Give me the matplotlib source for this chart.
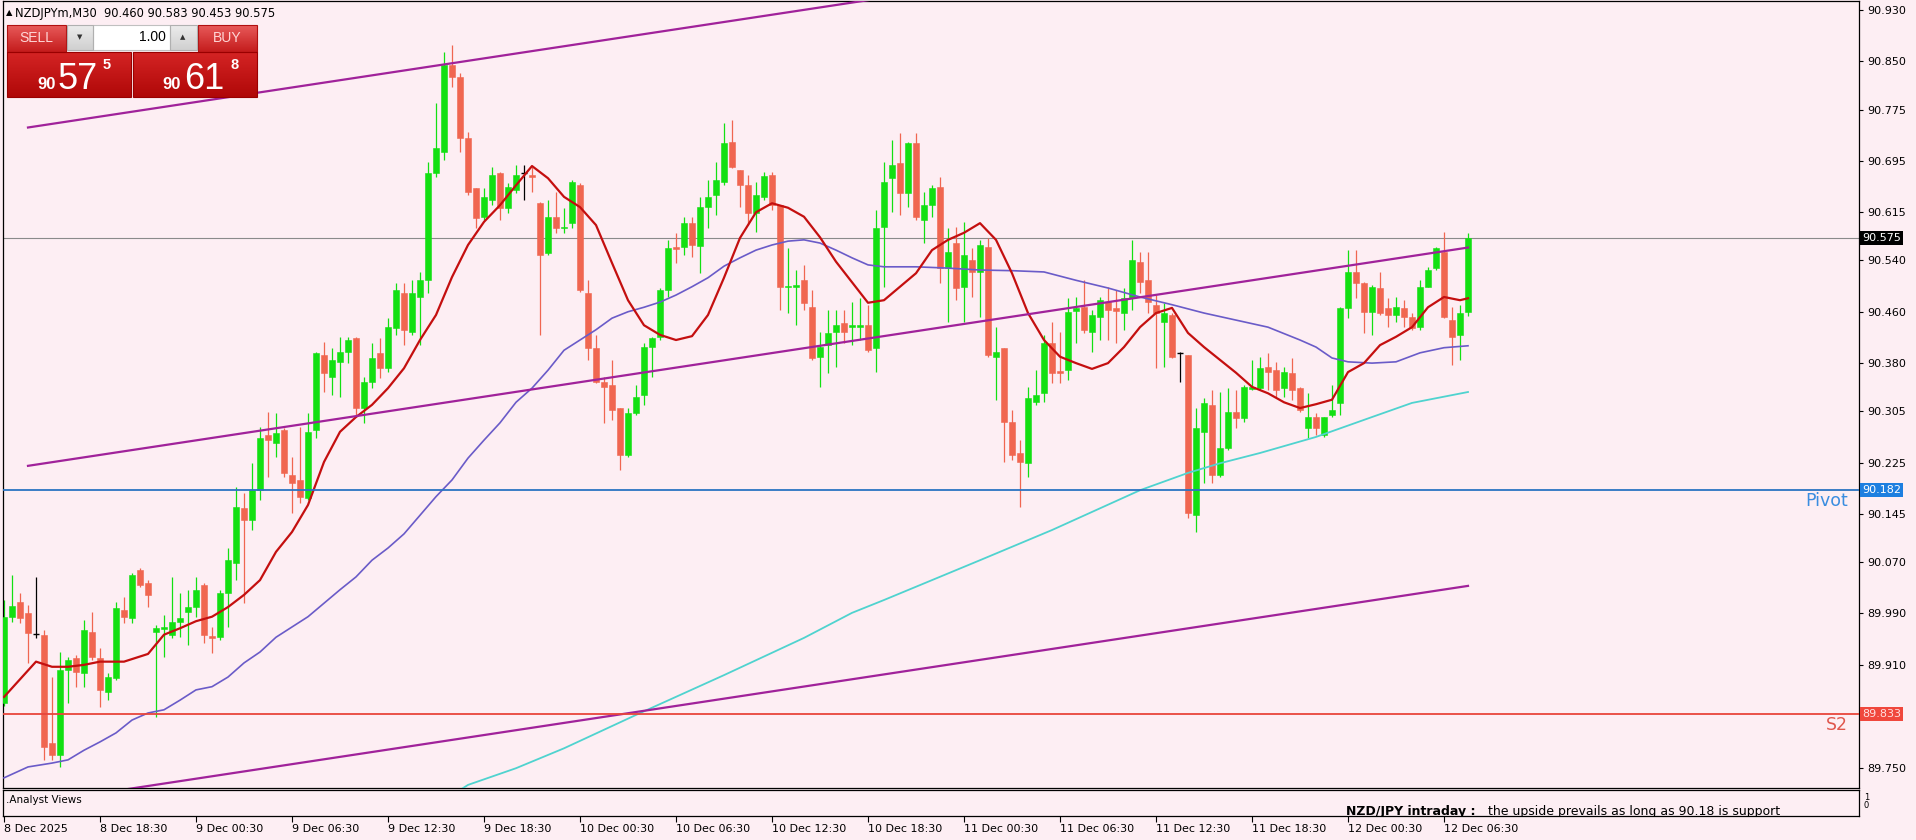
import matplotlib
matplotlib.use("Agg")
import matplotlib.pyplot as plt
import matplotlib.colors as mcolors
from matplotlib import font_manager
from matplotlib.patches import Rectangle
import numpy as np
import pandas as pd

# ---- chart data (NZDJPYm, M30) ----
first_bar = "2025-12-08 12:30"

opens = [89.850, 89.985, 90.008, 89.990, 89.958, 89.957, 89.788, 89.770, 89.902, 89.921,
         89.897, 89.961, 89.921, 89.868, 89.890, 89.995, 89.983, 90.058, 90.037, 89.961,
         89.966, 89.957, 89.977, 89.992, 90.000, 90.034, 89.955, 89.953, 90.022, 90.069,
         90.154, 90.136, 90.182, 90.268, 90.256, 90.276, 90.206, 90.198, 90.170, 90.276,
         90.393, 90.358, 90.382, 90.397, 90.419, 90.310, 90.351, 90.396, 90.372, 90.435,
         90.489, 90.429, 90.483, 90.509, 90.676, 90.709, 90.844, 90.826, 90.731, 90.653,
         90.608, 90.634, 90.676, 90.622, 90.650, 90.676, 90.673, 90.629, 90.551, 90.608,
         90.590, 90.598, 90.657, 90.489, 90.404, 90.351, 90.346, 90.310, 90.237, 90.302,
         90.330, 90.405, 90.421, 90.494, 90.561, 90.561, 90.598, 90.562, 90.623, 90.642,
         90.662, 90.724, 90.681, 90.657, 90.614, 90.639, 90.673, 90.626, 90.499, 90.499,
         90.509, 90.467, 90.390, 90.408, 90.429, 90.443, 90.436, 90.436, 90.439, 90.404,
         90.592, 90.668, 90.692, 90.645, 90.723, 90.603, 90.626, 90.654, 90.528, 90.567,
         90.499, 90.541, 90.522, 90.561, 90.390, 90.404, 90.288, 90.240, 90.225, 90.320,
         90.333, 90.411, 90.368, 90.369, 90.461, 90.467, 90.429, 90.452, 90.475, 90.466,
         90.458, 90.481, 90.537, 90.509, 90.470, 90.444, 90.455, 90.396, 90.393, 90.144,
         90.273, 90.315, 90.206, 90.248, 90.304, 90.295, 90.340, 90.341, 90.374, 90.369,
         90.341, 90.365, 90.341, 90.279, 90.296, 90.268, 90.299, 90.318, 90.466, 90.522,
         90.505, 90.460, 90.497, 90.466, 90.455, 90.466, 90.452, 90.436, 90.499, 90.528,
         90.553, 90.447, 90.424, 90.460]

highs = [90.011, 90.050, 90.022, 90.003, 90.047, 89.964, 89.891, 89.930, 89.922, 89.925,
         89.980, 89.992, 89.936, 89.897, 90.008, 90.016, 90.053, 90.061, 90.042, 89.972,
         89.988, 90.047, 90.022, 90.027, 90.047, 90.037, 89.969, 90.027, 90.092, 90.187,
         90.178, 90.224, 90.281, 90.304, 90.302, 90.279, 90.234, 90.281, 90.302, 90.397,
         90.413, 90.404, 90.421, 90.421, 90.421, 90.358, 90.411, 90.419, 90.450, 90.505,
         90.505, 90.509, 90.522, 90.693, 90.785, 90.865, 90.876, 90.832, 90.740, 90.653,
         90.653, 90.686, 90.678, 90.661, 90.689, 90.689, 90.686, 90.631, 90.634, 90.647,
         90.622, 90.665, 90.661, 90.509, 90.424, 90.358, 90.385, 90.310, 90.310, 90.346,
         90.411, 90.421, 90.497, 90.572, 90.583, 90.608, 90.608, 90.639, 90.665, 90.693,
         90.754, 90.759, 90.681, 90.673, 90.662, 90.678, 90.678, 90.626, 90.559, 90.525,
         90.533, 90.494, 90.429, 90.463, 90.463, 90.463, 90.475, 90.481, 90.470, 90.619,
         90.693, 90.727, 90.738, 90.724, 90.738, 90.647, 90.657, 90.670, 90.590, 90.592,
         90.600, 90.559, 90.572, 90.575, 90.436, 90.404, 90.307, 90.260, 90.343, 90.369,
         90.424, 90.444, 90.429, 90.481, 90.483, 90.509, 90.463, 90.483, 90.499, 90.494,
         90.497, 90.572, 90.553, 90.553, 90.486, 90.474, 90.458, 90.397, 90.393, 90.310,
         90.326, 90.338, 90.335, 90.341, 90.338, 90.346, 90.385, 90.390, 90.396, 90.382,
         90.374, 90.388, 90.343, 90.333, 90.302, 90.296, 90.346, 90.467, 90.556, 90.556,
         90.506, 90.502, 90.522, 90.481, 90.483, 90.478, 90.458, 90.509, 90.530, 90.561,
         90.584, 90.467, 90.470, 90.583]

lows = [89.846, 89.977, 89.975, 89.913, 89.952, 89.762, 89.762, 89.751, 89.850, 89.876,
        89.876, 89.918, 89.844, 89.855, 89.886, 89.975, 89.975, 90.031, 90.000, 89.829,
        89.922, 89.952, 89.953, 89.941, 89.985, 89.944, 89.928, 89.949, 89.969, 90.042,
        90.006, 90.120, 90.167, 90.203, 90.234, 90.203, 90.147, 90.162, 90.167, 90.263,
        90.335, 90.330, 90.327, 90.380, 90.296, 90.287, 90.341, 90.357, 90.366, 90.424,
        90.408, 90.424, 90.408, 90.489, 90.670, 90.696, 90.810, 90.709, 90.642, 90.590,
        90.603, 90.626, 90.603, 90.614, 90.645, 90.634, 90.647, 90.424, 90.548, 90.583,
        90.583, 90.590, 90.491, 90.385, 90.349, 90.287, 90.291, 90.214, 90.234, 90.299,
        90.315, 90.358, 90.416, 90.483, 90.536, 90.548, 90.545, 90.520, 90.590, 90.611,
        90.657, 90.684, 90.623, 90.595, 90.584, 90.634, 90.619, 90.463, 90.458, 90.439,
        90.463, 90.385, 90.343, 90.365, 90.374, 90.411, 90.408, 90.416, 90.397, 90.366,
        90.499, 90.615, 90.611, 90.623, 90.603, 90.567, 90.608, 90.505, 90.444, 90.478,
        90.444, 90.483, 90.452, 90.390, 90.323, 90.226, 90.229, 90.156, 90.203, 90.315,
        90.320, 90.349, 90.349, 90.354, 90.411, 90.427, 90.397, 90.416, 90.416, 90.411,
        90.432, 90.463, 90.489, 90.458, 90.372, 90.374, 90.388, 90.351, 90.139, 90.117,
        90.193, 90.193, 90.203, 90.245, 90.279, 90.288, 90.338, 90.338, 90.338, 90.327,
        90.327, 90.323, 90.304, 90.263, 90.268, 90.265, 90.296, 90.299, 90.450, 90.481,
        90.427, 90.424, 90.455, 90.436, 90.444, 90.436, 90.432, 90.432, 90.499, 90.525,
        90.450, 90.377, 90.385, 90.453]

closes = [89.985, 90.001, 89.983, 89.960, 89.958, 89.782, 89.770, 89.902, 89.918, 89.899,
          89.964, 89.922, 89.871, 89.891, 89.999, 89.985, 90.050, 90.034, 90.019, 89.967,
          89.969, 89.977, 89.983, 90.000, 90.027, 89.957, 89.952, 90.022, 90.073, 90.156,
          90.136, 90.182, 90.263, 90.260, 90.271, 90.209, 90.193, 90.171, 90.273, 90.396,
          90.365, 90.385, 90.397, 90.416, 90.310, 90.351, 90.388, 90.372, 90.436, 90.494,
          90.432, 90.489, 90.509, 90.676, 90.715, 90.844, 90.826, 90.731, 90.647, 90.606,
          90.639, 90.673, 90.622, 90.654, 90.673, 90.676, 90.670, 90.548, 90.608, 90.590,
          90.592, 90.662, 90.494, 90.404, 90.351, 90.343, 90.307, 90.237, 90.302, 90.327,
          90.405, 90.419, 90.494, 90.559, 90.558, 90.598, 90.564, 90.623, 90.639, 90.665,
          90.723, 90.686, 90.657, 90.614, 90.642, 90.671, 90.626, 90.499, 90.500, 90.502,
          90.474, 90.388, 90.405, 90.427, 90.439, 90.429, 90.439, 90.439, 90.400, 90.590,
          90.662, 90.689, 90.645, 90.723, 90.608, 90.626, 90.653, 90.528, 90.553, 90.497,
          90.548, 90.522, 90.564, 90.393, 90.397, 90.288, 90.237, 90.226, 90.326, 90.330,
          90.411, 90.365, 90.365, 90.460, 90.466, 90.432, 90.455, 90.478, 90.463, 90.461,
          90.481, 90.541, 90.506, 90.475, 90.458, 90.458, 90.390, 90.396, 90.147, 90.279,
          90.318, 90.206, 90.248, 90.304, 90.295, 90.343, 90.343, 90.372, 90.366, 90.338,
          90.366, 90.338, 90.307, 90.296, 90.279, 90.296, 90.307, 90.466, 90.522, 90.505,
          90.460, 90.499, 90.458, 90.455, 90.467, 90.452, 90.435, 90.499, 90.525, 90.559,
          90.452, 90.421, 90.458, 90.575]

# moving averages (bar index -> value)
ma_fast_bar = [0, 4, 6, 8, 10, 12, 15, 18, 20, 22, 24, 26, 28, 30, 32, 34, 36, 38, 40, 42,
               44, 46, 48, 50, 52, 54, 56, 58, 60, 62, 64, 66, 68, 70, 72, 74, 76, 78, 80, 82,
               84, 86, 88, 90, 92, 94, 96, 98, 100, 102, 104, 106, 108, 110, 112, 114, 116, 118,
               120, 122, 124, 126, 128, 130, 132, 134, 136, 138, 140, 142, 144, 146, 148, 150,
               152, 154, 156, 158, 160, 162, 164, 166, 168, 170, 172, 174, 176, 178, 180, 182, 183]
ma_fast = [89.860, 89.915, 89.907, 89.907, 89.910, 89.915, 89.915, 89.927, 89.957, 89.967,
           89.978, 89.985, 90.000, 90.019, 90.042, 90.086, 90.117, 90.159, 90.226, 90.273,
           90.296, 90.315, 90.341, 90.372, 90.416, 90.455, 90.514, 90.564, 90.600, 90.626,
           90.657, 90.687, 90.668, 90.639, 90.623, 90.595, 90.536, 90.478, 90.439, 90.424,
           90.416, 90.422, 90.455, 90.513, 90.575, 90.615, 90.629, 90.622, 90.608, 90.576,
           90.538, 90.506, 90.474, 90.478, 90.499, 90.520, 90.556, 90.572, 90.583, 90.598,
           90.572, 90.520, 90.458, 90.416, 90.390, 90.380, 90.371, 90.380, 90.405, 90.436,
           90.458, 90.466, 90.427, 90.405, 90.385, 90.365, 90.343, 90.333, 90.319, 90.310,
           90.316, 90.323, 90.366, 90.380, 90.408, 90.421, 90.436, 90.467, 90.483, 90.478, 90.481]

ma_slow_bar = [0, 3, 6, 8, 10, 12, 14, 16, 18, 20, 22, 24, 26, 28, 30, 32, 34, 36, 38, 40,
               42, 44, 46, 48, 50, 52, 54, 56, 58, 60, 62, 64, 66, 68, 70, 72, 74, 76, 78, 80,
               82, 84, 86, 88, 90, 92, 94, 96, 98, 100, 102, 104, 106, 108, 110, 114, 118, 122,
               126, 130, 134, 138, 142, 146, 150, 154, 158, 162, 164, 166, 168, 171, 174, 177, 180, 183]
ma_slow = [89.734, 89.751, 89.757, 89.762, 89.777, 89.790, 89.804, 89.824, 89.835, 89.840,
           89.855, 89.871, 89.876, 89.891, 89.913, 89.930, 89.953, 89.969, 89.985, 90.006,
           90.027, 90.047, 90.073, 90.092, 90.114, 90.143, 90.172, 90.198, 90.232, 90.260,
           90.287, 90.319, 90.341, 90.369, 90.400, 90.416, 90.432, 90.450, 90.460, 90.467,
           90.475, 90.486, 90.499, 90.513, 90.531, 90.544, 90.556, 90.564, 90.570, 90.572,
           90.567, 90.556, 90.544, 90.533, 90.530, 90.530, 90.528, 90.525, 90.524, 90.522,
           90.509, 90.497, 90.483, 90.471, 90.458, 90.447, 90.436, 90.416, 90.405, 90.388,
           90.382, 90.380, 90.382, 90.396, 90.404, 90.407]

ma_long_bar = [56, 58, 64, 70, 79, 90, 100, 106, 110, 122, 131, 142, 148, 152, 157, 164, 171, 176, 183]
ma_long = [89.707, 89.723, 89.749, 89.780, 89.832, 89.894, 89.952, 89.991, 90.011, 90.073,
           90.120, 90.182, 90.209, 90.224, 90.240, 90.265, 90.296, 90.318, 90.335]

# equidistant channel: middle line end points and half width
channel_bar = [3, 183]
channel_mid = [90.220, 90.560]
channel_half = 0.527

price_now = 90.575
pivot = 90.182
s2 = 89.833

ytick_vals = [90.930, 90.850, 90.775, 90.695, 90.615, 90.540, 90.460, 90.380,
              90.305, 90.225, 90.145, 90.070, 89.990, 89.910, 89.750]
xtick_labels = ["8 Dec 2025", "8 Dec 18:30", "9 Dec 00:30", "9 Dec 06:30", "9 Dec 12:30",
                "9 Dec 18:30", "10 Dec 00:30", "10 Dec 06:30", "10 Dec 12:30", "10 Dec 18:30",
                "11 Dec 00:30", "11 Dec 06:30", "11 Dec 12:30", "11 Dec 18:30", "12 Dec 00:30",
                "12 Dec 06:30"]

header = "NZDJPYm,M30  90.460 90.583 90.453 90.575"
sell_price = ("90", "57", "5")
buy_price = ("90", "61", "8")
lot = "1.00"
note_bold = "NZD/JPY intraday :"
note_text = "the upside prevails as long as 90.18 is support"

# ---- style ----
BG = "#fdeef3"
UP = "#12e012"
DOWN = "#f06650"
installed = {f.name for f in font_manager.fontManager.ttflist}
narrow = "Liberation Sans Narrow" if "Liberation Sans Narrow" in installed else "Liberation Sans"
plt.rcParams["font.family"] = ["DejaVu Sans"]

W, H = 1916, 840
fig = plt.figure(figsize=(W / 100, H / 100), dpi=100, facecolor=BG)


def px_rect(x0, y0, x1, y1):
    return [x0 / W, 1 - y1 / H, (x1 - x0) / W, (y1 - y0) / H]


ax = fig.add_axes(px_rect(3, 1, 1859, 788), facecolor=BG)
ax2 = fig.add_axes(px_rect(3, 790, 1859, 816), facecolor=BG)

n = len(opens)
idx = np.arange(n)
o = np.array(opens); h = np.array(highs); l = np.array(lows); c = np.array(closes)
cols = np.where(c > o, UP, np.where(c < o, DOWN, "black"))

# candles
ax.vlines(idx, l, h, colors=cols, lw=0.9, zorder=2)
body = c != o
bottoms = np.minimum(o, c)[body]
heights = np.maximum(np.abs(c - o)[body], 0.0016)
ax.bar(idx[body], heights, bottom=bottoms, width=0.64, color=cols[body],
       edgecolor=cols[body], lw=0.4, zorder=3)
ax.hlines(c[~body], idx[~body] - 0.32, idx[~body] + 0.32, colors="black", lw=1.0, zorder=3)

# moving averages
ax.plot(ma_long_bar, ma_long, color="#4fd3cf", lw=1.3, zorder=4)
ax.plot(ma_slow_bar, ma_slow, color="#6a5bc8", lw=1.2, zorder=4)
ax.plot(ma_fast_bar, ma_fast, color="#c40f0f", lw=1.6, zorder=4)

# channel
mid = np.array(channel_mid)
for off in (-channel_half, 0, channel_half):
    ax.plot(channel_bar, mid + off, color="#a0229a", lw=1.6, zorder=5)

# horizontal levels
ax.axhline(price_now, color="#8a8a8a", lw=0.8, zorder=1)
ax.axhline(pivot, color="#2a74c2", lw=1.3, zorder=5)
ax.axhline(s2, color="#e8453a", lw=1.3, zorder=5)
ytr = ax.get_yaxis_transform()
ax.text(0.994, pivot - 0.003, "Pivot", transform=ytr, ha="right", va="top",
        color="#3a8de0", fontsize=12.5)
ax.text(0.994, s2 - 0.003, "S2", transform=ytr, ha="right", va="top",
        color="#e0564c", fontsize=12.5)

# limits: 8 px per bar, 642 px per price unit
ax.set_xlim(-0.125, -0.125 + 1856 / 8)
ax.set_ylim(90.9456 - 788 / 642, 90.9456 - 1 / 642)
ax.set_xticks([])
ax.yaxis.tick_right()
ax.set_yticks(ytick_vals)
ax.set_yticklabels([f"{v:.3f}" for v in ytick_vals])
ax.tick_params(axis="y", direction="out", length=3, width=0.8, pad=3, labelsize=8)
for sp in ax.spines.values():
    sp.set_linewidth(0.9)

# price boxes on the axis
for val, fc, tc in [(price_now, "black", "white"), (pivot, "#1d7fe0", "white"),
                    (s2, "#f0473c", "#ffe0e0")]:
    ax.annotate(f"{val:.3f}", xy=(1, val), xycoords=ytr, xytext=(3, 0),
                textcoords="offset pixels", ha="left", va="center", fontsize=8,
                color=tc, annotation_clip=False, zorder=10,
                bbox=dict(boxstyle="square,pad=0.18", fc=fc, ec="none"))

# lower window with time axis
times = pd.date_range(first_bar, periods=n, freq="30min")
xtick_pos = []
for lbl in xtick_labels:
    if lbl.endswith("2025"):
        xtick_pos.append(0)
    else:
        xtick_pos.append(times.get_loc(pd.Timestamp(lbl.replace(" Dec ", " Dec 2025 "))))
ax2.set_xlim(ax.get_xlim())
ax2.set_ylim(0, 1)
ax2.set_yticks([])
ax2.set_xticks(xtick_pos)
ax2.set_xticklabels(xtick_labels)
for t in ax2.get_xticklabels():
    t.set_ha("left")
ax2.tick_params(axis="x", direction="out", length=4, width=0.8, pad=2, labelsize=8)
for sp in ax2.spines.values():
    sp.set_linewidth(0.9)

# ---- overlay in pixel space (terminal chrome) ----
ui = fig.add_axes([0, 0, 1, 1])
ui.axis("off")


def grad_box(x0, y0, x1, y1, top, bottom, edge=None):
    c0 = np.array(mcolors.to_rgb(top))
    c1 = np.array(mcolors.to_rgb(bottom))
    t = np.linspace(0, 1, 40)[:, None, None]
    ui.imshow(c0 + (c1 - c0) * t, extent=(x0, x1, y1, y0), aspect="auto",
              interpolation="bilinear", zorder=5)
    if edge:
        ui.add_patch(Rectangle((x0, y0), x1 - x0, y1 - y0, fill=False, ec=edge, lw=0.8, zorder=6))


ui.text(6, 13, "\u25B2", fontsize=6, va="center", ha="left")
ui.text(15, 13, header, fontsize=8.3, va="center", ha="left")

grad_box(7, 25, 66, 52, "#e85a5a", "#c41c1c", "#b01010")
grad_box(198, 25, 257, 52, "#e85a5a", "#c41c1c", "#b01010")
grad_box(67, 25, 93, 50, "#ececec", "#d0d0d0", "#b0b0b0")
grad_box(170, 25, 197, 50, "#ececec", "#d0d0d0", "#b0b0b0")
ui.add_patch(Rectangle((93, 25), 77, 25, fc="white", ec="#c0c0c0", lw=0.8, zorder=5))
grad_box(7, 52, 131, 97, "#d42424", "#b00808", "#9a0000")
grad_box(133, 52, 257, 97, "#d42424", "#b00808", "#9a0000")

ui.text(36, 38, "SELL", color="#ffd6d6", fontsize=10, ha="center", va="center",
        family=[narrow, "DejaVu Sans"], zorder=7)
ui.text(227, 38, "BUY", color="#ffd6d6", fontsize=10, ha="center", va="center",
        family=[narrow, "DejaVu Sans"], zorder=7)
ui.text(80, 37, "\u25BC", fontsize=5, ha="center", va="center", color="#333333", zorder=7)
ui.text(183, 37, "\u25B2", fontsize=5, ha="center", va="center", color="#333333", zorder=7)
ui.text(166, 37, lot, fontsize=10, ha="right", va="center", zorder=7,
        family=[narrow, "DejaVu Sans"])

for x_small, x_big, x_sup, (a, b, s) in [(37, 58, 103, sell_price), (162, 184, 231, buy_price)]:
    ui.text(x_small, 89, a, color="white", fontsize=12, fontweight="bold", ha="left",
            va="baseline", family=[narrow, "DejaVu Sans"], zorder=7)
    ui.text(x_big, 89, b, color="white", fontsize=26, ha="left", va="baseline",
            family=[narrow, "DejaVu Sans"], zorder=7)
    ui.text(x_sup, 58, s, color="white", fontsize=10.5, fontweight="bold", ha="left",
            va="top", family=[narrow, "DejaVu Sans"], zorder=7)

ui.text(6, 800, ".Analyst Views", fontsize=7.5, va="center", ha="left")
ui.text(1864, 797, "1", fontsize=6, va="center", ha="left")
ui.text(1864, 806, "0", fontsize=6, va="center", ha="left")
ax2.text(1346, 815, note_bold, transform=ui.transData, fontsize=9, fontweight="bold",
         va="baseline", ha="left", clip_on=True)
ax2.text(1488, 815, note_text, transform=ui.transData, fontsize=9,
         va="baseline", ha="left", clip_on=True)

ui.set_xlim(0, W)
ui.set_ylim(H, 0)

fig.savefig("out.png", dpi=100, facecolor=BG)
